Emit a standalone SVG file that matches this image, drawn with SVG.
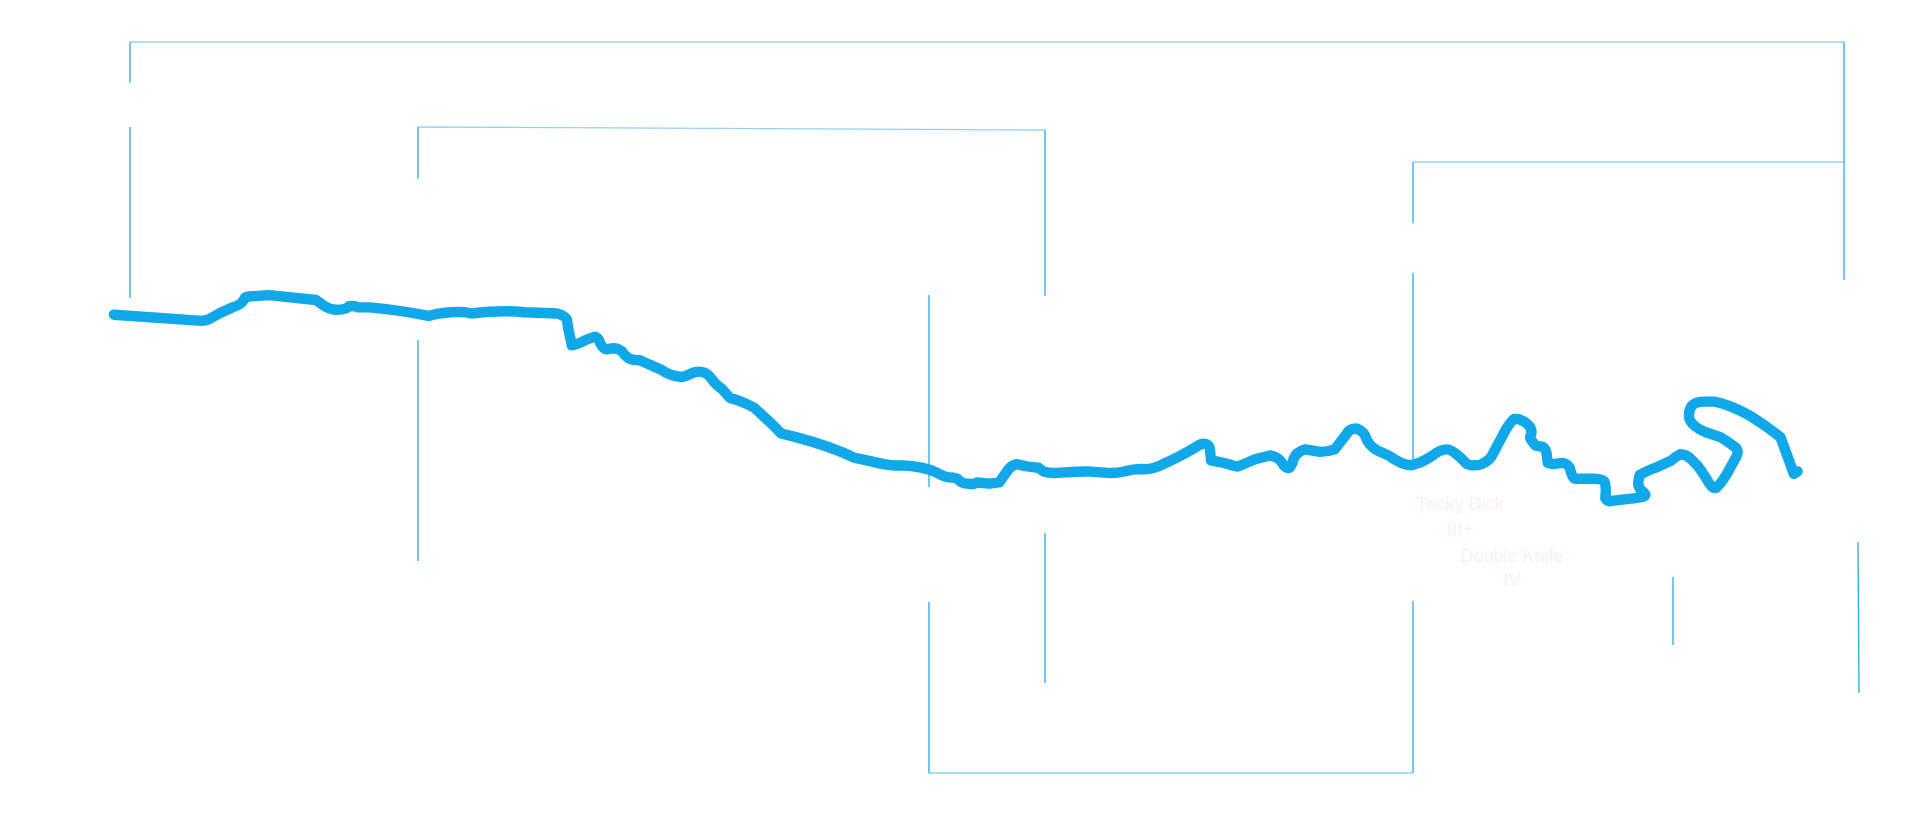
<svg xmlns="http://www.w3.org/2000/svg" width="1920" height="819" viewBox="0 0 1920 819">
<style>
.br{fill:none;stroke:#2aa9e6;stroke-width:1.3}
.hr{fill:none;stroke:#8fd5f2;stroke-width:1.3}
.route{fill:none;stroke:#11a8e9;stroke-width:8.5;stroke-linecap:round;stroke-linejoin:round}
.lbl{font-family:"Liberation Sans",Arial,sans-serif;font-size:18px;fill:#fcf0f0;text-anchor:middle}
</style>
<rect width="1920" height="819" fill="#ffffff"/>
<g id="connectors">
<path class="hr" d="M130,42 H1844 M418,127 L1045,130 M1413,162 H1844 M929,773 H1413"/>
<path class="br" d="M130,42 V83 M130,127 V298 M1844,42 V280 M418,127 V179 M418,340 V561 M1045,130 V296 M1413,162 V223 M1413,273 V465 M929,295 V487 M929,602 V773 M1413,773 V601 M1045,533 V683 M1673,577 V645 M1858,542 L1859,693"/>
</g>
<g id="route" transform="scale(1.2245)">
<path class="route" d="M93,257 L165,262 L170,261 Q180,255 190,251 Q197,249 199,245 Q200,242 205,242 L220,241 L258,245 L265,250 Q270,253 275,253 Q283,253 285,250 L290,250 L292,251 L302,251 Q325,253 350,258 Q365,254 380,255 L385,256 Q410,253 428,255 L455,256 Q462,258 463,261 L464,268 L467,282 Q470,282 480,277 L486,275 Q489,276 490,280 Q493,286 497,285 Q503,283 508,287 Q513,295 522,294 L540,302 Q547,307 557,308 Q563,306 567,304 Q575,302 580,308 Q584,314 590,318 L596,325 Q605,327 616,333 L630,346 L638,354 L650,357 Q680,365 698,374 L708,376 Q728,381 735,380 Q755,381 765,386 Q772,390 778,390 L782,391 Q785,395 791,395 Q795,396 798,394 L808,395 L816,394 L823,384 Q826,380 830,379 L834,380 Q838,381 848,382 L852,385 Q858,387 866,386 Q880,385 888,385 L902,386 Q910,387 918,385 Q925,383 932,383 Q940,384 950,379 Q965,372 975,366 L980,363 Q986,361 988,366 L989,376 Q1000,378 1006,380 L1011,381 L1025,375 L1037,372 Q1044,373 1047,378 Q1050,383 1053,382 Q1055,380 1056,376 Q1058,369 1066,367 Q1072,368 1078,369 Q1084,369 1090,367 L1100,354 Q1102,350 1108,350 Q1113,352 1115,356 Q1117,364 1127,369 L1134,372 Q1145,380 1153,380 Q1160,378 1165,375 L1170,372 Q1176,367 1182,367 Q1185,367 1192,373 L1198,379 Q1204,381 1210,379 Q1217,376 1219,371 L1227,356 Q1233,344 1237,342 Q1243,342 1248,347 Q1252,351 1250,356 Q1249,358 1251,360 L1254,364 L1260,365 Q1262,366 1263,370 L1264,378 L1268,379 L1276,378 Q1279,378 1282,382 L1283,386 Q1285,392 1288,391 L1300,391 Q1308,391 1310,393 Q1312,396 1311,407 Q1313,410 1316,409 L1334,407 L1340,406 Q1346,405 1342,402 Q1337,398 1338,393 L1339,388 Q1348,383 1352,382 L1365,376 Q1368,373 1372,371 Q1377,371 1381,375 L1386,380 Q1390,385 1396,395 Q1399,400 1402,398 Q1408,392 1413,382 L1418,373 Q1420,369 1418,366 Q1413,362 1405,357 L1393,353 Q1383,349 1380,343 Q1378,336 1382,331 Q1385,328 1392,328 L1400,328 Q1412,330 1430,340 L1442,348 L1454,357 L1465,387 L1468,385"/>
</g>
<g id="label-tricky-dick"><text class="lbl" x="1460" y="510">Tricky Dick</text><text class="lbl" x="1460" y="535">III+</text></g>
<g id="label-double-knife"><text class="lbl" x="1512" y="562">Double Knife</text><text class="lbl" x="1512" y="586">IV</text></g>
</svg>
